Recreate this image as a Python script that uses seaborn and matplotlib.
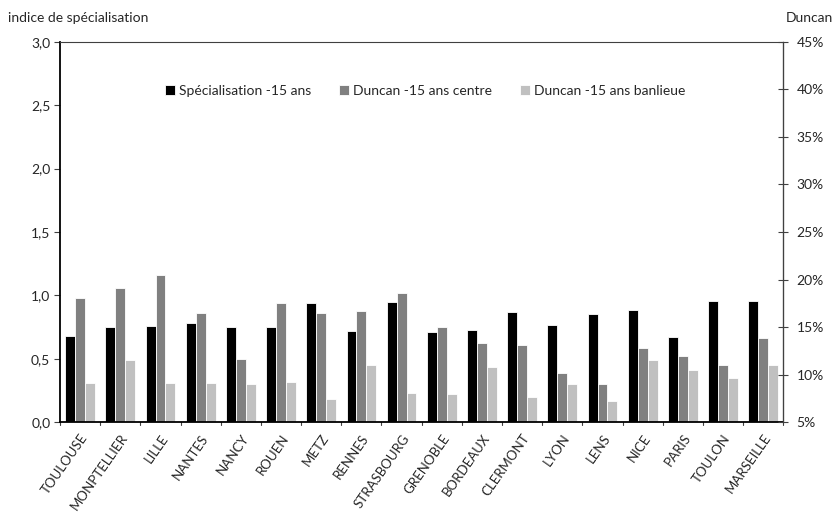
import matplotlib
matplotlib.use("Agg")
import matplotlib.pyplot as plt
import seaborn as sns
import pandas as pd
import numpy as np
from matplotlib.ticker import FuncFormatter

cities = ["TOULOUSE", "MONPTELLIER", "LILLE", "NANTES", "NANCY", "ROUEN", "METZ",
          "RENNES", "STRASBOURG", "GRENOBLE", "BORDEAUX", "CLERMONT", "LYON",
          "LENS", "NICE", "PARIS", "TOULON", "MARSEILLE"]
specialisation = [0.68, 0.75, 0.76, 0.78, 0.75, 0.75, 0.94, 0.72, 0.95,
                  0.715, 0.73, 0.87, 0.77, 0.855, 0.886, 0.673, 0.96, 0.96]
# Duncan indices, in percent (right axis)
duncan_centre = [18.1, 19.1, 20.5, 16.5, 11.7, 17.5, 16.5, 16.7, 18.6,
                 15.0, 13.3, 13.1, 10.2, 9.0, 12.8, 12.0, 11.0, 13.9]
duncan_banlieue = [9.1, 11.5, 9.1, 9.1, 9.0, 9.2, 7.4, 11.0, 8.1,
                   8.0, 10.8, 7.7, 9.0, 7.2, 11.5, 10.5, 9.7, 11.0]
series_names = ["Spécialisation -15 ans", "Duncan -15 ans centre", "Duncan -15 ans banlieue"]
left_ticks = [0.0, 0.5, 1.0, 1.5, 2.0, 2.5, 3.0]
right_ticks = [5, 10, 15, 20, 25, 30, 35, 40, 45]

L_MIN, L_MAX = 0.0, 3.0
R_MIN, R_MAX = 5.0, 45.0

def pct_to_left(p):
    return (np.asarray(p) - R_MIN) / (R_MAX - R_MIN) * (L_MAX - L_MIN) + L_MIN

df = pd.DataFrame({
    "ville": cities * 3,
    "serie": [series_names[0]] * len(cities) + [series_names[1]] * len(cities) + [series_names[2]] * len(cities),
    "valeur": list(specialisation) + list(pct_to_left(duncan_centre)) + list(pct_to_left(duncan_banlieue)),
})

sns.set_style("white")
plt.rcParams["font.family"] = ["Lato", "DejaVu Sans"]
FS = 10

fig = plt.figure(figsize=(8.39, 5.12), dpi=100)
ax = fig.add_axes([60 / 839, 1 - 422.3 / 512, (783.3 - 60) / 839, (422.3 - 41.7) / 512])

sns.barplot(data=df, x="ville", y="valeur", hue="serie", order=cities,
            hue_order=series_names, palette=["#000000", "#808080", "#c0c0c0"],
            width=0.74, edgecolor="white", linewidth=0.6, ax=ax, legend=True)

ax.set_ylim(L_MIN, L_MAX)
ax.set_xlim(-0.5, len(cities) - 0.5)
ax.set_yticks(left_ticks)
ax.yaxis.set_major_formatter(FuncFormatter(lambda v, p: f"{v:.1f}".replace(".", ",")))
ax.set_xlabel("")
ax.set_ylabel("")
ax.set_xticks(np.arange(len(cities)))
ax.set_xticklabels(cities, rotation=55, ha="right", rotation_mode="anchor", fontsize=9.5)
ax.tick_params(axis="x", length=0, pad=7)
# ticks between categories
for xb in np.arange(len(cities) + 1) - 0.5:
    ax.plot([xb, xb], [0, -0.025], color="#404040", lw=0.8, clip_on=False, transform=ax.transData)
ax.tick_params(axis="y", direction="out", length=4, width=0.8, color="#404040", labelsize=FS, pad=3)

for s in ["left", "bottom"]:
    ax.spines[s].set_color("#000000")
    ax.spines[s].set_linewidth(1.3)
for s in ["top", "right"]:
    ax.spines[s].set_color("#404040")
    ax.spines[s].set_linewidth(0.8)

ax2 = ax.twinx()
ax2.set_ylim(R_MIN, R_MAX)
ax2.set_yticks(right_ticks)
ax2.yaxis.set_major_formatter(FuncFormatter(lambda v, p: f"{int(v)}%"))
ax2.tick_params(axis="y", direction="inout", length=7, width=0.8, color="#404040", labelsize=FS, pad=6)
for s in ax2.spines.values():
    s.set_visible(False)
ax2.spines["right"].set_visible(True)
ax2.spines["right"].set_color("#404040")
ax2.spines["right"].set_linewidth(0.9)

leg = ax.legend(loc="center", bbox_to_anchor=(0.505, 0.87), ncol=3, frameon=False,
                fontsize=FS, handlelength=0.7, handleheight=0.7, handletextpad=0.3,
                columnspacing=2.0)

fig.text(8 / 839, 1 - 18 / 512, "indice de spécialisation", fontsize=FS, va="center", ha="left")
fig.text(833 / 839, 1 - 18 / 512, "Duncan", fontsize=FS, va="center", ha="right")

fig.savefig("out.png", dpi=100)
